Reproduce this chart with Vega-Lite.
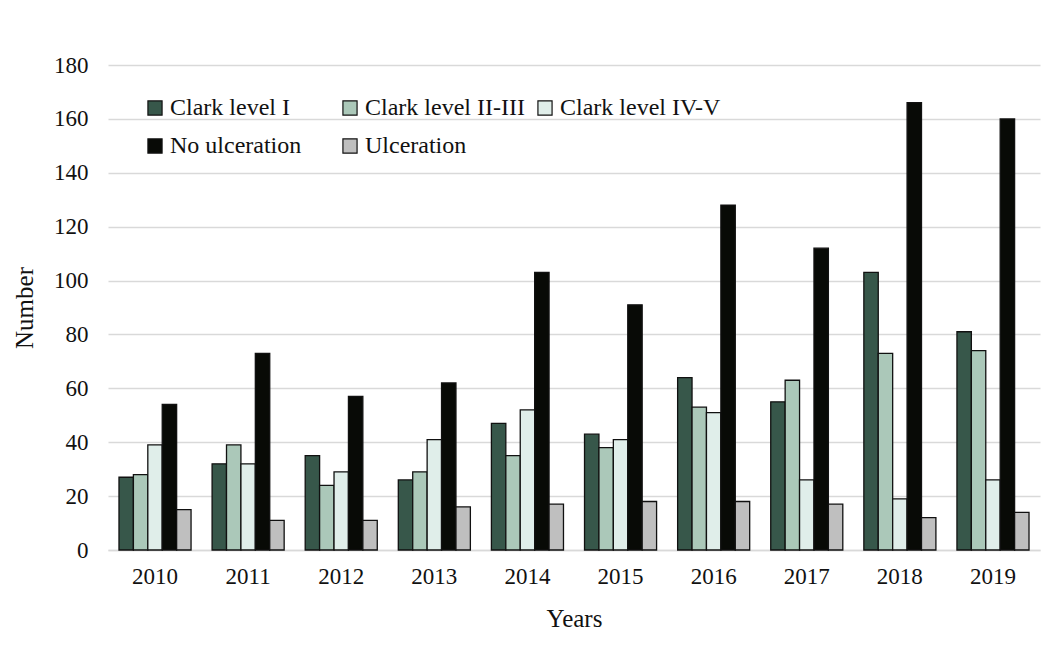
{
  "$schema": "https://vega.github.io/schema/vega-lite/v6.json",
  "width": 932,
  "height": 485,
  "autosize": {"type": "none"},
  "padding": {"left": 108, "top": 65, "right": 11, "bottom": 97},
  "background": "white",
  "data": {
    "values": [
      {"year": "2010", "group": "Clark level I", "value": 27},
      {"year": "2010", "group": "Clark level II-III", "value": 28},
      {"year": "2010", "group": "Clark level IV-V", "value": 39},
      {"year": "2010", "group": "No ulceration", "value": 54},
      {"year": "2010", "group": "Ulceration", "value": 15},
      {"year": "2011", "group": "Clark level I", "value": 32},
      {"year": "2011", "group": "Clark level II-III", "value": 39},
      {"year": "2011", "group": "Clark level IV-V", "value": 32},
      {"year": "2011", "group": "No ulceration", "value": 73},
      {"year": "2011", "group": "Ulceration", "value": 11},
      {"year": "2012", "group": "Clark level I", "value": 35},
      {"year": "2012", "group": "Clark level II-III", "value": 24},
      {"year": "2012", "group": "Clark level IV-V", "value": 29},
      {"year": "2012", "group": "No ulceration", "value": 57},
      {"year": "2012", "group": "Ulceration", "value": 11},
      {"year": "2013", "group": "Clark level I", "value": 26},
      {"year": "2013", "group": "Clark level II-III", "value": 29},
      {"year": "2013", "group": "Clark level IV-V", "value": 41},
      {"year": "2013", "group": "No ulceration", "value": 62},
      {"year": "2013", "group": "Ulceration", "value": 16},
      {"year": "2014", "group": "Clark level I", "value": 47},
      {"year": "2014", "group": "Clark level II-III", "value": 35},
      {"year": "2014", "group": "Clark level IV-V", "value": 52},
      {"year": "2014", "group": "No ulceration", "value": 103},
      {"year": "2014", "group": "Ulceration", "value": 17},
      {"year": "2015", "group": "Clark level I", "value": 43},
      {"year": "2015", "group": "Clark level II-III", "value": 38},
      {"year": "2015", "group": "Clark level IV-V", "value": 41},
      {"year": "2015", "group": "No ulceration", "value": 91},
      {"year": "2015", "group": "Ulceration", "value": 18},
      {"year": "2016", "group": "Clark level I", "value": 64},
      {"year": "2016", "group": "Clark level II-III", "value": 53},
      {"year": "2016", "group": "Clark level IV-V", "value": 51},
      {"year": "2016", "group": "No ulceration", "value": 128},
      {"year": "2016", "group": "Ulceration", "value": 18},
      {"year": "2017", "group": "Clark level I", "value": 55},
      {"year": "2017", "group": "Clark level II-III", "value": 63},
      {"year": "2017", "group": "Clark level IV-V", "value": 26},
      {"year": "2017", "group": "No ulceration", "value": 112},
      {"year": "2017", "group": "Ulceration", "value": 17},
      {"year": "2018", "group": "Clark level I", "value": 103},
      {"year": "2018", "group": "Clark level II-III", "value": 73},
      {"year": "2018", "group": "Clark level IV-V", "value": 19},
      {"year": "2018", "group": "No ulceration", "value": 166},
      {"year": "2018", "group": "Ulceration", "value": 12},
      {"year": "2019", "group": "Clark level I", "value": 81},
      {"year": "2019", "group": "Clark level II-III", "value": 74},
      {"year": "2019", "group": "Clark level IV-V", "value": 26},
      {"year": "2019", "group": "No ulceration", "value": 160},
      {"year": "2019", "group": "Ulceration", "value": 14}
    ]
  },
  "mark": {"type": "bar", "stroke": "#111111", "strokeWidth": 1.3},
  "encoding": {
    "x": {
      "field": "year", "type": "nominal", "title": "Years",
      "scale": {"paddingInner": 0.226, "paddingOuter": 0.118},
      "axis": {"labelAngle": 0, "labelPadding": 15, "titlePadding": 18, "ticks": false,
               "domainColor": "#d9d9d9", "domainWidth": 1.5}
    },
    "xOffset": {"field": "group", "type": "nominal",
      "sort": ["Clark level I", "Clark level II-III", "Clark level IV-V", "No ulceration", "Ulceration"],
      "scale": {"paddingInner": 0, "paddingOuter": 0}},
    "y": {
      "field": "value", "type": "quantitative", "title": "Number",
      "scale": {"domain": [0, 180], "nice": false},
      "axis": {"values": [0, 20, 40, 60, 80, 100, 120, 140, 160, 180], "domain": false, "ticks": false,
               "labelPadding": 20, "titlePadding": 16, "gridColor": "#d9d9d9", "gridWidth": 1.5}
    },
    "color": {
      "field": "group", "type": "nominal", "title": null,
      "sort": ["Clark level I", "Clark level II-III", "Clark level IV-V", "No ulceration", "Ulceration"],
      "scale": {
        "domain": ["Clark level I", "Clark level II-III", "Clark level IV-V", "No ulceration", "Ulceration"],
        "range": ["#37574a", "#abc8b9", "#e0eeea", "#080a06", "#bfbfbf"]
      },
      "legend": {
        "orient": "none", "legendX": 35, "legendY": 31, "columns": 3, "direction": "horizontal", "gridAlign": "all",
        "symbolType": "square", "symbolSize": 200, "symbolStrokeColor": "#111111", "symbolStrokeWidth": 1.2,
        "labelFontSize": 24, "labelFont": "Liberation Serif", "labelColor": "#111111",
        "columnPadding": 7, "rowPadding": 14, "labelOffset": 3, "labelLimit": 300
      }
    }
  },
  "config": {
    "font": "Liberation Serif",
    "view": {"stroke": null},
    "axis": {"labelFontSize": 23, "titleFontSize": 25, "labelColor": "#111111", "titleColor": "#111111",
             "titleFontWeight": "normal", "labelFont": "Liberation Serif", "titleFont": "Liberation Serif"}
  }
}
